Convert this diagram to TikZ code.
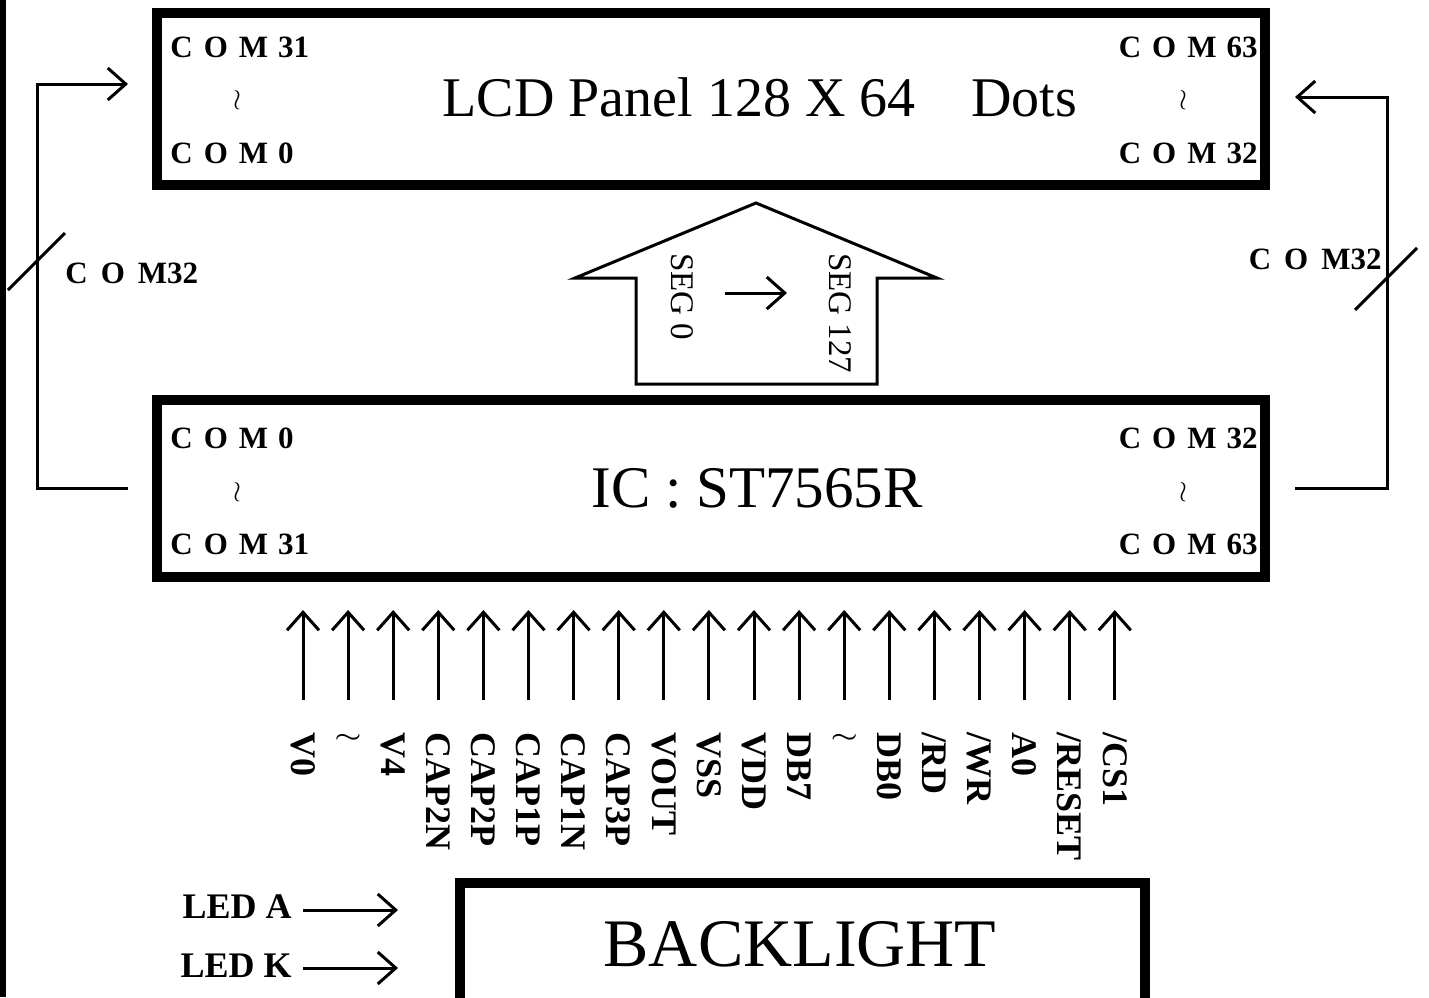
\documentclass[tikz,border=0pt]{standalone}
\usepackage{fontspec}
\setmainfont{Liberation Serif}
\usetikzlibrary{arrows.meta,positioning,calc}
\newcommand\comtxt[1]{C\hspace{5.5pt}O\hspace{5.5pt}M\hspace{5pt}#1}

\begin{document}
\begin{tikzpicture}[x=0.5pt,y=-0.5pt,>={Straight Barb[length=9pt,width=16pt]},
  unitbox/.style={draw,line width=5pt,line join=miter,minimum width=554pt,inner sep=0pt},
  com/.style={font=\bfseries\fontsize{15.5}{17}\selectfont,inner sep=0pt},
  wire/.style={line width=1.5pt},
  pintext/.style={font=\bfseries\fontsize{18}{20}\selectfont,rotate=-90,anchor=west,inner sep=0pt}]
\useasboundingbox (0,0) rectangle (1429,997);
\clip (0,0) rectangle (1429,997);
\draw[line width=3pt] (3,0) -- (3,997);

% panel and controller
\node[unitbox,minimum height=86pt] (panel) at (711,99) {};
\node[unitbox,minimum height=88.5pt] (ic) at (711,488.5) {};
\node[draw,line width=5pt,line join=miter,minimum width=342.5pt,minimum height=100pt] (bl) at (802.5,983) {};

\node[font=\fontsize{28}{30}\selectfont] (paneltitle) at (760,97) {LCD Panel 128 X 64\quad Dots};
\node[font=\fontsize{29.5}{32}\selectfont] (ictitle) at (757,488) {IC : ST7565R};
\node[font=\fontsize{34}{36}\selectfont] (bltitle) at (800,944) {BACKLIGHT};

\node[com,anchor=west] (pc31) at (170,47) {\comtxt{31}};
\node[com] (pwl) at (237,100) {$\wr$};
\node[com,anchor=west] (pc0) at (170,153) {\comtxt{0}};
\node[com,anchor=east] (pc63) at (1258,47) {\comtxt{63}};
\node[com] (pwr) at (1183,100) {$\wr$};
\node[com,anchor=east] (pc32) at (1258,153) {\comtxt{32}};

\node[com,anchor=west] (ic0) at (170,438) {\comtxt{0}};
\node[com] (icwl) at (237,492) {$\wr$};
\node[com,anchor=west] (ic31) at (170,544) {\comtxt{31}};
\node[com,anchor=east] (ic32) at (1258,438) {\comtxt{32}};
\node[com] (icwr) at (1183,492) {$\wr$};
\node[com,anchor=east] (ic63) at (1258,544) {\comtxt{63}};

% common lines
\draw[wire,->] ([xshift=-12pt]ic.west) -- ++(-91,0) |- ([xshift=-12pt,yshift=7.5pt]panel.west);
\draw[wire,->] ([xshift=12.5pt]ic.east) -- ++(92,0) |- ([xshift=12.5pt,yshift=1pt]panel.east);
\draw[wire] (8,290) -- (65,233);
\draw[wire] (1355,310) -- (1417,248);
\node[com,anchor=west] (lbus) at (65,273) {C\hspace{6.5pt}O\hspace{6.5pt}M32};
\node[com,anchor=east] (rbus) at (1382,259) {C\hspace{6.5pt}O\hspace{6.5pt}M32};

% segment bus
\draw[wire,line join=miter] (756,203) -- (937,278) -- (877,278) -- (877,384) -- (636,384) -- (636,278) -- (575,278) -- cycle;
\node[rotate=-90,anchor=west,inner sep=0pt,font=\fontsize{16.5}{18}\selectfont] (seg0) at (682,253) {SEG 0};
\node[rotate=-90,anchor=west,inner sep=0pt,font=\fontsize{16.5}{18}\selectfont] (seg127) at (840,253) {SEG 127};
\coordinate (segfrom) at (725,293);
\coordinate (segto) at (787,293);
\draw[wire,->] (segfrom) -- (segto);

% interface pins
\foreach \lab [count=\i from 0] in {V0,$\wr$,V4,CAP2N,CAP2P,CAP1P,CAP1N,CAP3P,VOUT,VSS,VDD,DB7,$\wr$,DB0,/RD,/WR,A0,/RESET,/CS1} {
  \pgfmathsetmacro\px{303+45.1*\i}
  \node[pintext] (p\i) at (\px,732) {\lab};
  \draw[wire,->] (p\i.west) ++(0,-32) -- ++(0,-90);
}

% backlight
\node[font=\bfseries\fontsize{18}{20}\selectfont,anchor=east,inner sep=0pt] (leda) at (292,907) {LED A};
\node[font=\bfseries\fontsize{18}{20}\selectfont,anchor=east,inner sep=0pt] (ledk) at (292,966) {LED K};
\draw[wire,->] ([xshift=5.5pt,yshift=-1.5pt]leda.east) -- ++(95,0);
\draw[wire,->] ([xshift=5.5pt,yshift=-1pt]ledk.east) -- ++(95,0);
\end{tikzpicture}
\end{document}
